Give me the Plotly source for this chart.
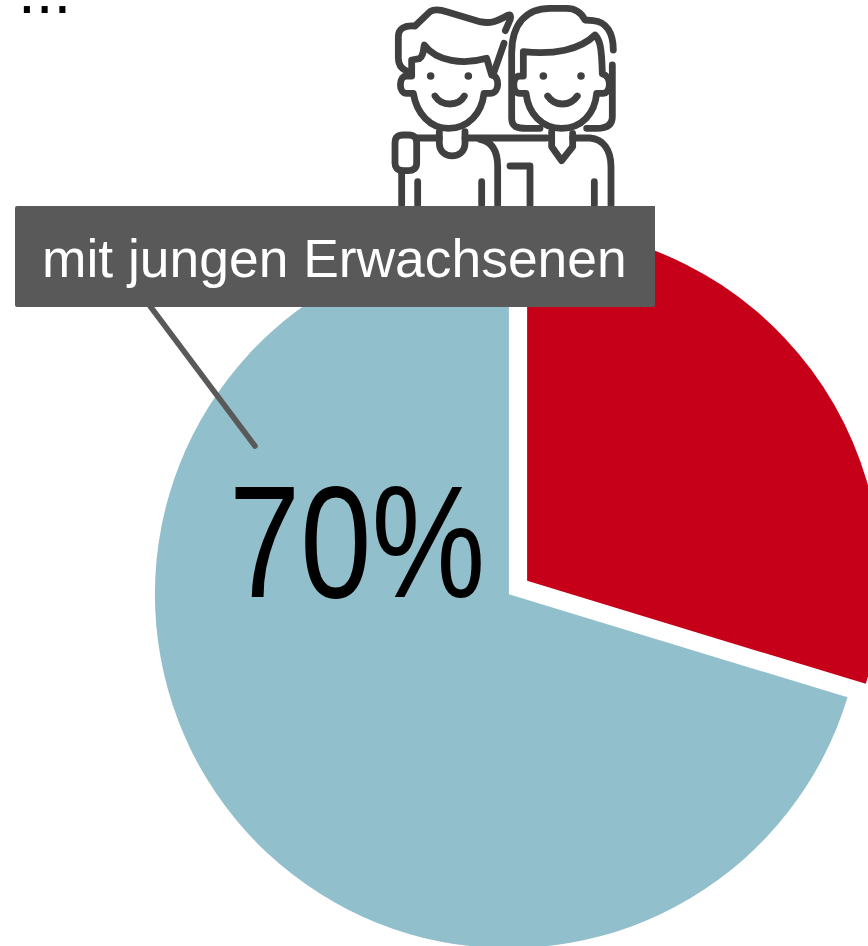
import re
import plotly.graph_objects as go

# --- data ---
categories = ["Andere", "mit jungen Erwachsenen"]
values = [29.7, 70.3]
colors = ["#C50018", "#92BFCC"]
pulls = [0.064, 0]
value_label = "70%"
callout_label = "mit jungen Erwachsenen"

W, H = 900, 980          # canvas is slightly larger than the window, like the cropped original
CX, CY, R = 508.9, 594.3, 354


def px(x):
    return x / W


def py(y):
    return 1 - y / H


def zoom_path(d):
    """Icon outlines are given in a 3x grid anchored at (380, 0) of the canvas."""
    toks = re.findall(r"[A-Za-z]|-?\d+\.?\d*", d)
    out, i = [], 0
    while i < len(toks):
        if toks[i].isalpha():
            out.append(toks[i])
            i += 1
        else:
            x = 380 + float(toks[i]) / 3
            y = float(toks[i + 1]) / 3
            out.append(f"{px(x):.5f},{py(y):.5f}")
            i += 2
    return " ".join(out)


def canvas_path(d):
    toks = re.findall(r"[A-Za-z]|-?\d+\.?\d*", d)
    out, i = [], 0
    while i < len(toks):
        if toks[i].isalpha():
            out.append(toks[i])
            i += 1
        else:
            out.append(f"{px(float(toks[i])):.5f},{py(float(toks[i + 1])):.5f}")
            i += 2
    return " ".join(out)


icon_paths = [
    # man: hair
    "M 78 212 C 62 205 55 190 55 175 L 55 110 C 55 85 75 75 105 78 L 150 35 C 165 25 185 30 200 35 L 300 65 C 330 72 350 65 385 45 C 392 42 393 50 390 60 L 376 92",
    "M 372 130 L 340 222",
    # man: fringe and face
    "M 95 228 L 95 180 L 118 176 C 130 170 130 150 133 135 C 170 185 250 195 320 175 L 335 225 C 360 228 360 280 330 280 L 312 280 C 305 340 265 385 205 385 C 150 385 110 340 100 280 L 80 280 C 55 280 55 228 80 228 L 95 228",
    "M 165 288 C 185 320 235 320 253 288",
    # man: collar and body
    "M 178 395 L 178 430 C 178 480 255 480 255 430 L 255 395",
    "M 70 405 L 85 405 C 105 405 110 415 110 430 L 110 490 C 110 505 100 512 85 512 L 70 512 C 50 512 45 500 45 490 L 45 430 C 45 415 50 405 70 405 Z",
    "M 110 414 L 178 414",
    "M 255 414 L 500 414",
    "M 300 418 C 340 425 353 460 353 500 L 353 615",
    "M 65 512 L 65 615",
    "M 113 545 L 113 615",
    "M 305 545 L 305 615",
    "M 390 498 L 450 498 L 450 615",
    # woman: hair
    "M 480 385 L 440 385 C 410 385 395 380 395 355 L 395 160 C 395 70 440 25 510 25 L 560 25 C 590 25 605 40 615 60 L 640 62 C 680 65 700 100 700 150",
    "M 697 195 L 697 350 C 697 375 680 385 650 385 L 620 385",
    # woman: fringe and face
    "M 430 228 L 430 155 C 520 165 600 150 645 105 C 660 120 665 140 667 222 C 695 228 695 280 668 280 L 650 280 C 645 340 605 385 545 385 C 485 385 445 340 438 280 L 420 280 C 395 280 395 228 420 228 L 430 228",
    "M 503 288 C 525 320 570 320 592 288",
    # woman: collar and body
    "M 515 395 L 515 440 L 545 482 L 578 440 L 578 400",
    "M 578 414 L 630 414 C 670 417 693 450 693 500 L 693 615",
    "M 643 545 L 643 615",
]
eye_centres = [(152, 228), (265, 228), (490, 228), (603, 228)]

ICON = "#404040"
BOX = "#595959"

shapes = []
for d in icon_paths:
    shapes.append(dict(type="path", xref="paper", yref="paper", path=zoom_path(d),
                       line=dict(color=ICON, width=6.8), layer="above"))
for ex, ey in eye_centres:
    x, y = 380 + ex / 3, ey / 3
    shapes.append(dict(type="circle", xref="paper", yref="paper",
                       x0=px(x - 3.8), x1=px(x + 3.8), y0=py(y + 3.8), y1=py(y - 3.8),
                       fillcolor=ICON, line=dict(width=0), layer="above"))
# callout box and leader
shapes.append(dict(type="path", xref="paper", yref="paper", layer="above",
                   path=canvas_path("M 17 206 L 655 206 L 655 305 Q 655 307 653 307 L 17 307 Q 15 307 15 305 L 15 208 Q 15 206 17 206 Z"),
                   fillcolor=BOX, line=dict(width=0)))
shapes.append(dict(type="line", xref="paper", yref="paper", layer="above",
                   x0=px(150), y0=py(306), x1=px(255), y1=py(446),
                   line=dict(color=BOX, width=5.5)))

d = R * (1 + max(pulls))
fig = go.Figure(go.Pie(
    labels=categories,
    values=values,
    sort=False,
    direction="clockwise",
    rotation=0,
    pull=pulls,
    marker=dict(colors=colors, line=dict(width=0)),
    textinfo="none",
    hoverinfo="label+percent",
    domain=dict(x=[px(CX - d), px(CX + d)], y=[py(CY + d), py(CY - d)]),
))

fig.update_layout(
    width=W, height=H, autosize=False,
    margin=dict(l=0, r=0, t=0, b=0, pad=0),
    paper_bgcolor="white",
    showlegend=False,
    shapes=shapes,
    annotations=[
        dict(text=callout_label, xref="paper", yref="paper", x=px(334.5), y=py(259),
             xanchor="center", yanchor="middle", showarrow=False,
             font=dict(family="Liberation Sans", size=53.4, color="white")),
        dict(text=value_label, xref="paper", yref="paper", x=px(357), y=py(541.5),
             xanchor="center", yanchor="middle", showarrow=False,
             font=dict(family="Liberation Sans", size=160, color="black")),
        dict(text="...", xref="paper", yref="paper", x=px(16), y=py(29),
             xanchor="left", yanchor="bottom", showarrow=False,
             font=dict(family="Liberation Sans", size=64, color="black")),
    ],
)

post = """
document.documentElement.style.overflow='hidden';
document.body.style.overflow='hidden';
document.body.style.margin='0';
document.querySelectorAll('.shapelayer path').forEach(function(p){
  p.style.strokeLinecap='round'; p.style.strokeLinejoin='round';
});
document.querySelectorAll('.annotation-text').forEach(function(t){
  if (t.textContent === '70%') {
    t.setAttribute('textLength', '256');
    t.setAttribute('lengthAdjust', 'spacingAndGlyphs');
  }
});
"""
fig.write_html("out.html", post_script=post, config={"displayModeBar": False})
